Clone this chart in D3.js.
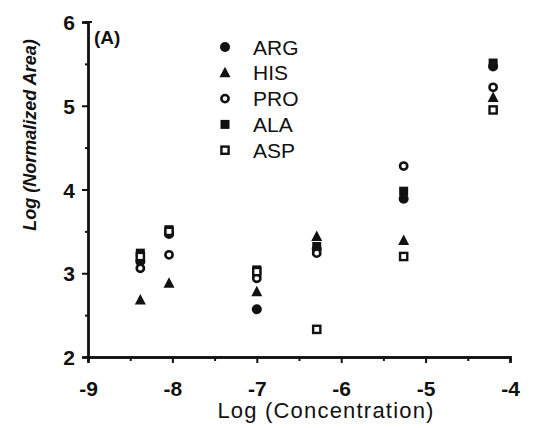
<!DOCTYPE html>
<html><head><meta charset="utf-8">
<script src="https://cdn.jsdelivr.net/npm/d3@7"></script>
<style>
html,body{margin:0;padding:0;background:#fff;}
text{font-family:"Liberation Sans",Arial,sans-serif;fill:#111;}
</style></head>
<body><svg id="c" width="538" height="428"></svg>
<script>
const concentrations = [-8.38, -8.04, -7.0, -6.29, -5.26, -4.2];
const seriesNames = ["ARG", "HIS", "PRO", "ALA", "ASP"];
const ARG = [3.14, 3.47, 2.57, 3.29, 3.89, 5.47];
const HIS = [2.68, 2.88, 2.78, 3.44, 3.39, 5.10];
const PRO = [3.06, 3.22, 2.94, 3.24, 4.28, 5.22];
const ALA = [3.24, 3.52, 3.04, 3.32, 3.98, 5.51];
const ASP = [3.20, 3.50, 3.02, 2.33, 3.20, 4.95];
const xTicks = [-9, -8, -7, -6, -5, -4];
const yTicks = [2, 3, 4, 5, 6];

const seriesValues = {ARG, HIS, PRO, ALA, ASP};
const shapes = {ARG:"circle", HIS:"triangle", PRO:"ocircle", ALA:"square", ASP:"osquare"};

const svg = d3.select("#c");
const x = d3.scaleLinear().domain([-9, -4]).range([88, 510]);
const y = d3.scaleLinear().domain([2, 6]).range([357, 22]);

// axes
const xAxis = svg.append("g").attr("transform", `translate(0,${y(2)})`)
  .call(d3.axisBottom(x).tickValues(xTicks).tickFormat(d => d).tickSize(6).tickPadding(18));
const xMinor = svg.append("g").attr("transform", `translate(0,${y(2)})`)
  .call(d3.axisBottom(x).tickValues(d3.range(-8.5, -4, 1)).tickFormat("").tickSize(4));
const yAxis = svg.append("g").attr("transform", `translate(${x(-9)},0)`)
  .call(d3.axisLeft(y).tickValues(yTicks).tickFormat(d => d).tickSize(6).tickPadding(7));
const yMinor = svg.append("g").attr("transform", `translate(${x(-9)},0)`)
  .call(d3.axisLeft(y).tickValues(d3.range(2.5, 6, 1)).tickFormat("").tickSize(3));

[xAxis, xMinor, yAxis, yMinor].forEach(g => {
  g.select(".domain").attr("stroke", "#111").attr("stroke-width", 2.4);
  g.selectAll(".tick line").attr("stroke", "#111").attr("stroke-width", 2);
  g.selectAll("text").attr("font-size", 21).attr("font-family", "Liberation Sans, Arial, sans-serif").attr("fill", "#111").attr("font-weight", "bold");
});
yAxis.selectAll(".tick text").attr("dy", "0.36em");

// small cap at top of y axis
svg.append("line").attr("x1", x(-9)).attr("x2", x(-9) + 4).attr("y1", y(6)).attr("y2", y(6))
  .attr("stroke", "#111").attr("stroke-width", 2);

svg.append("text").attr("x", 94).attr("y", 44).attr("font-size", 19).attr("font-weight", "bold").text("(A)");

svg.append("text").attr("x", 326).attr("y", 418).attr("text-anchor", "middle")
  .attr("font-size", 22).attr("letter-spacing", 1.2).text("Log (Concentration)");
svg.append("text").attr("transform", `translate(36,135) rotate(-90)`).attr("text-anchor", "middle")
  .attr("font-size", 18).attr("font-style", "italic").attr("font-weight", "bold").text("Log (Normalized Area)");

function drawMarker(g, shape, cx, cy) {
  const s = 9;
  if (shape === "circle") g.append("circle").attr("cx", cx).attr("cy", cy).attr("r", 5).attr("fill", "#111");
  else if (shape === "ocircle") g.append("circle").attr("cx", cx).attr("cy", cy).attr("r", 3.6).attr("fill", "#fff").attr("stroke", "#111").attr("stroke-width", 2.6);
  else if (shape === "square") g.append("rect").attr("x", cx - s/2).attr("y", cy - s/2).attr("width", s).attr("height", s).attr("fill", "#111");
  else if (shape === "osquare") g.append("rect").attr("x", cx - 3.6).attr("y", cy - 3.6).attr("width", 7.2).attr("height", 7.2).attr("fill", "#fff").attr("stroke", "#111").attr("stroke-width", 2.4);
  else if (shape === "triangle") g.append("path").attr("d", `M${cx},${cy-6} L${cx+5.5},${cy+4.5} L${cx-5.5},${cy+4.5} Z`).attr("fill", "#111");
}

const pts = svg.append("g");
seriesNames.forEach(name => {
  seriesValues[name].forEach((v, i) => drawMarker(pts, shapes[name], x(concentrations[i]), y(v)));
});

// legend
const leg = svg.append("g");
seriesNames.forEach((name, i) => {
  const cy = 47 + i * 25.8;
  drawMarker(leg, shapes[name], 225, cy);
  leg.append("text").attr("x", 253).attr("y", cy).attr("dy", "0.36em").attr("font-size", 21).text(name);
});
</script></body></html>
